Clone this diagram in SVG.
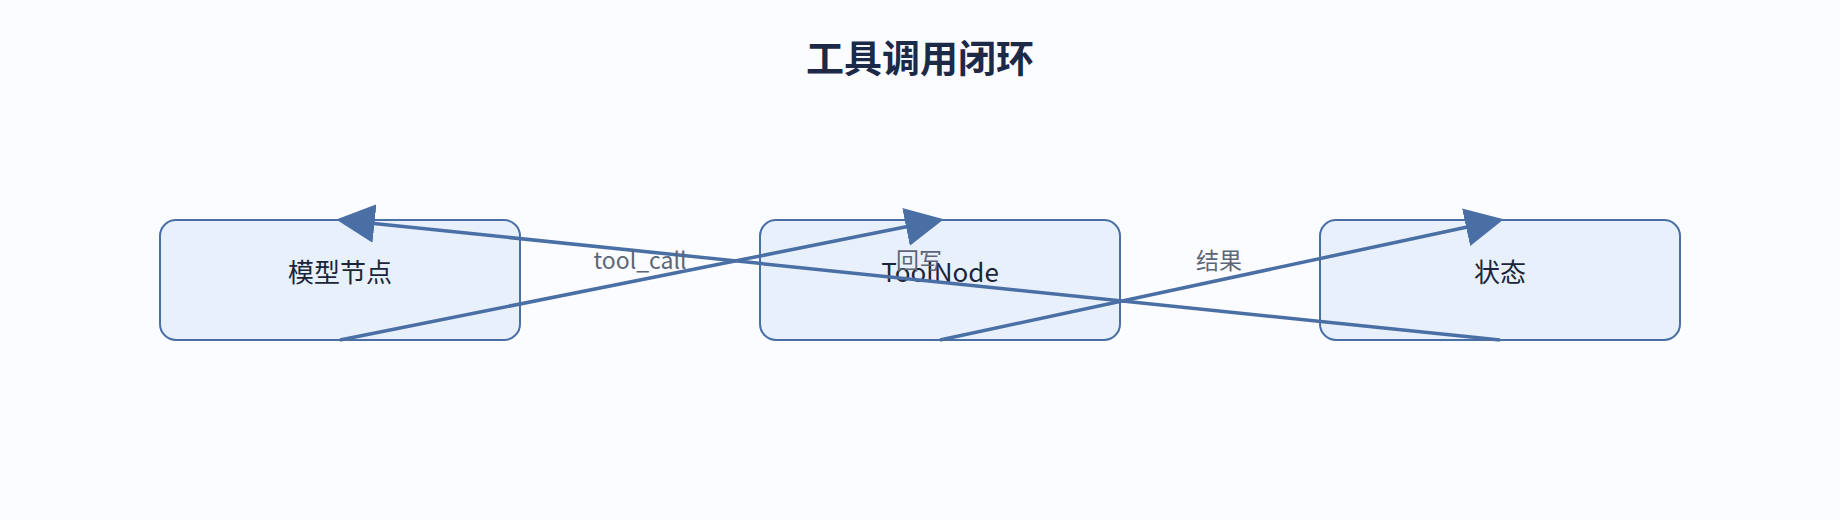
<svg xmlns="http://www.w3.org/2000/svg" width="1840" height="520" viewBox="0 0 1840 520">
<style>
.node rect{fill:#e8f0fc;stroke:#4a6fa5;stroke-width:2}
.node text{font-family:"Noto Sans CJK SC","Noto Sans",sans-serif;font-size:26px;fill:#1c2538;text-anchor:middle;dominant-baseline:central}
.edge{stroke:#4a6fa5;stroke-width:3.5;fill:none}
.lbl{font-family:"Noto Sans CJK SC","Noto Sans",sans-serif;font-size:23px;fill:#5d6678;text-anchor:middle;dominant-baseline:central}
</style>
<defs><marker id="a" viewBox="0 0 10 10" refX="9" refY="5" markerWidth="11" markerHeight="11" orient="auto"><path d="M0,0L10,5L0,10z" fill="#4a6fa5"/></marker></defs>
<rect width="1840" height="520" fill="#fbfcff"/>
<text x="920" y="55" text-anchor="middle" dominant-baseline="central" font-family="Noto Sans CJK SC,sans-serif" font-weight="bold" font-size="38" fill="#1c2a48">工具调用闭环</text>
<g id="n1" class="node"><rect x="160" y="220" width="360" height="120" rx="16"/><text x="340" y="270">模型节点</text></g>
<g id="n2" class="node"><rect x="760" y="220" width="360" height="120" rx="16"/><text x="940" y="270">ToolNode</text></g>
<g id="n3" class="node"><rect x="1320" y="220" width="360" height="120" rx="16"/><text x="1500" y="270">状态</text></g>
<g id="edges">
<line class="edge" marker-end="url(#a)" x1="340" y1="340" x2="940" y2="220"/>
<line class="edge" marker-end="url(#a)" x1="940" y1="340" x2="1500" y2="220"/>
<line class="edge" marker-end="url(#a)" x1="1500" y1="340" x2="340" y2="220"/>
<text class="lbl" x="640" y="259">tool_call</text>
<text class="lbl" x="1219" y="259">结果</text>
<text class="lbl" x="919" y="259">回写</text>
</g>
</svg>
